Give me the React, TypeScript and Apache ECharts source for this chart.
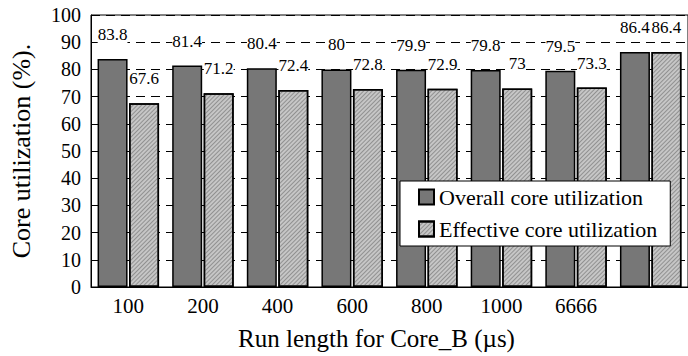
import React, { useEffect, useRef } from "react";
import * as echarts from "echarts";

const categories = ["100", "200", "400", "600", "800", "1000", "6666", ""];
const overall = [83.8, 81.4, 80.4, 80, 79.9, 79.8, 79.5, 86.4];
const effective = [67.6, 71.2, 72.4, 72.8, 72.9, 73, 73.3, 86.4];
const seriesNames = ["Overall core utilization", "Effective core utilization"];

const FONT = "'Liberation Serif', 'Times New Roman', serif";

export default function App() {
  const ref = useRef<HTMLDivElement>(null);
  useEffect(() => {
    if (!ref.current) return;
    const chart = echarts.init(ref.current, null, { renderer: "svg" });
    const label = {
      show: true,
      position: "top" as const,
      distance: 16,
      fontFamily: FONT,
      fontSize: 17,
      color: "#000",
      backgroundColor: "#fff",
      padding: [0, 0],
    };
    chart.setOption({
      animation: false,
      backgroundColor: "#fff",
      textStyle: { fontFamily: FONT },
      grid: {
        left: 88,
        right: 0,
        top: 15,
        bottom: 68,
        show: true,
        borderColor: "#000",
        borderWidth: 1,
        backgroundColor: "transparent",
      },
      legend: {
        data: seriesNames,
        orient: "vertical",
        left: 400,
        top: 181,
        backgroundColor: "#fff",
        borderColor: "#000",
        borderWidth: 1,
        padding: [5, 13, 6, 18],
        itemWidth: 15,
        itemHeight: 15,
        itemGap: 10,
        icon: "rect",
        z: 10,
        textStyle: { fontFamily: FONT, fontSize: 22, color: "#000" },
      },
      xAxis: {
        type: "category",
        data: categories,
        name: "Run length for Core_B (\u00b5s)",
        nameLocation: "middle",
        nameGap: 39,
        nameTextStyle: { fontFamily: FONT, fontSize: 25, color: "#000", padding: [0, 26, 0, 0] },
        axisLine: { lineStyle: { color: "#000", width: 1 } },
        axisTick: { show: false },
        axisLabel: { fontFamily: FONT, fontSize: 21, color: "#000", margin: 8 },
      },
      yAxis: {
        type: "value",
        min: 0,
        max: 100,
        interval: 10,
        name: "Core utilization (%).",
        nameLocation: "middle",
        nameGap: 57,
        nameTextStyle: { fontFamily: FONT, fontSize: 26, color: "#000" },
        axisLine: { show: true, lineStyle: { color: "#000", width: 1 } },
        axisTick: { show: false },
        axisLabel: { fontFamily: FONT, fontSize: 20, color: "#000", margin: 10 },
        splitLine: {
          show: true,
          lineStyle: { color: "#000", type: [9, 6], width: 1 },
        },
      },
      series: [
        {
          name: seriesNames[0],
          type: "bar",
          data: overall,
          barWidth: 30,
          barGap: "5%",
          itemStyle: { color: "#777777", borderColor: "#000", borderWidth: 1.5 },
          label,
        },
        {
          name: seriesNames[1],
          type: "bar",
          data: effective,
          barWidth: 30,
          itemStyle: {
            color: "#c6c6c6",
            borderColor: "#000",
            borderWidth: 1.5,
            decal: {
              symbol: "rect",
              symbolSize: 1,
              dashArrayX: [[1, 0]],
              dashArrayY: [1, 2],
              rotation: -Math.PI / 4,
              color: "rgba(80,80,80,0.45)",
            },
          },
          label,
        },
      ],
    });
    return () => chart.dispose();
  }, []);
  return <div ref={ref} style={{ width: 688, height: 356, position: "absolute", left: 0, top: 0 }} />;
}
